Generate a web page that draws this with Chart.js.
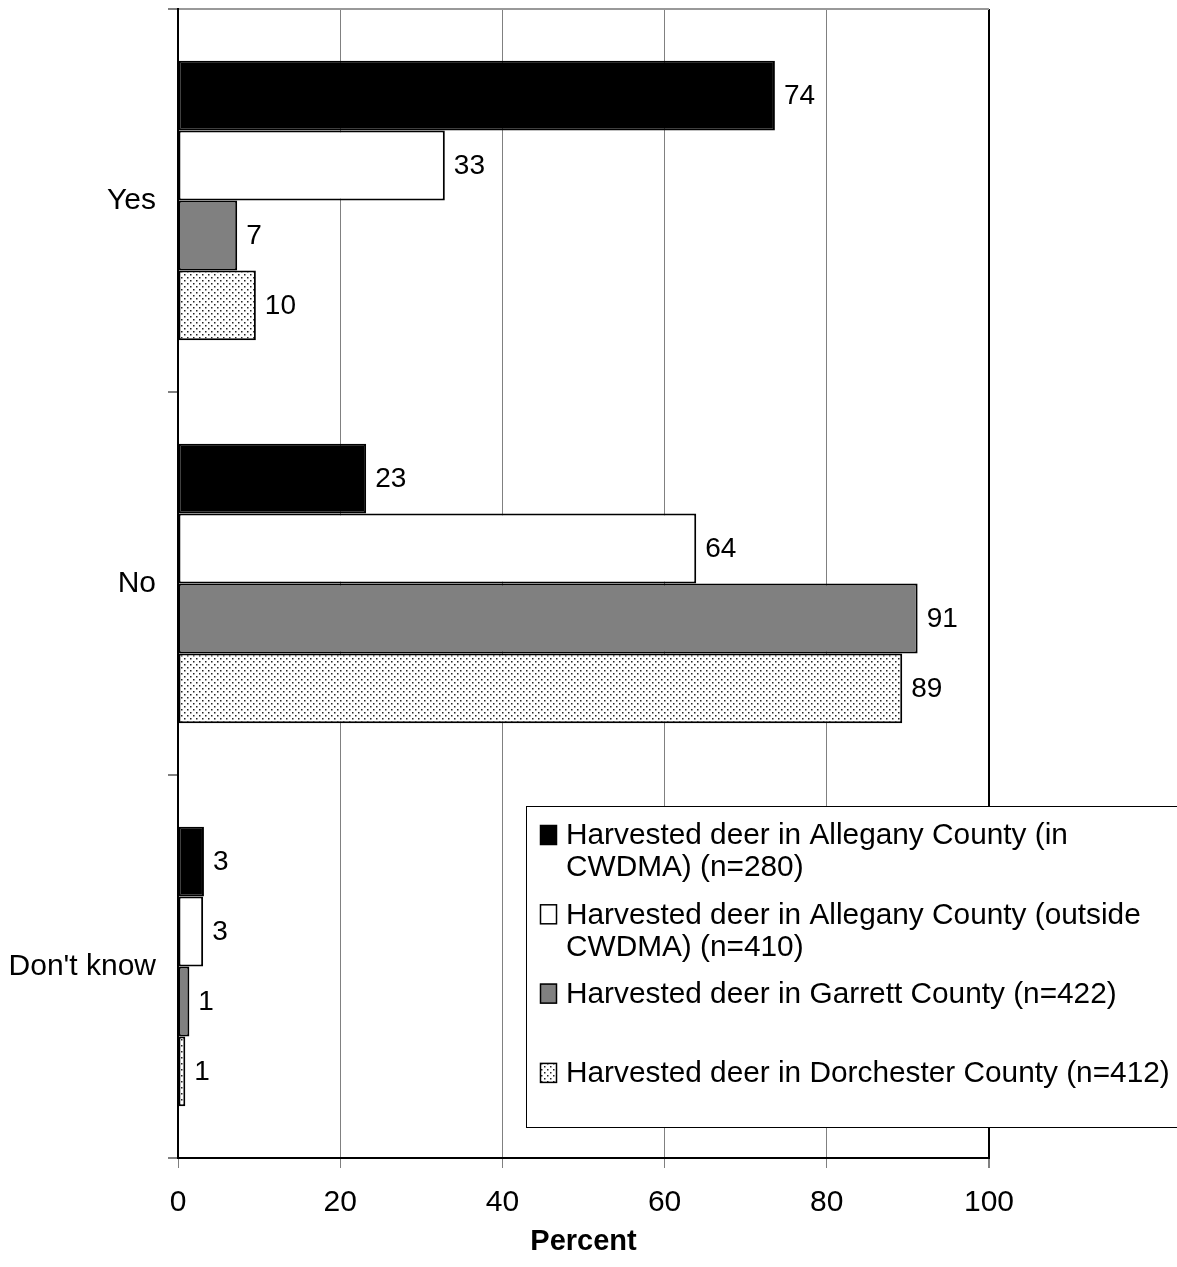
<!DOCTYPE html>
<html>
<head>
<meta charset="utf-8">
<script src="https://cdn.jsdelivr.net/npm/chart.js@4.4.1/dist/chart.umd.min.js"></script>
<style>
  html, body { margin: 0; padding: 0; background: #fff; }
  #wrap { width: 1177px; height: 1267px; position: relative; }
</style>
</head>
<body>
<div id="wrap"><canvas id="deerChart"></canvas></div>
<script>
const categories = ['Yes', 'No', "Don't know"];
const seriesNames = [
  'Harvested deer in Allegany County (in CWDMA) (n=280)',
  'Harvested deer in Allegany County (outside CWDMA) (n=410)',
  'Harvested deer in Garrett County (n=422)',
  'Harvested deer in Dorchester County (n=412)'
];
const alleganyIn = [73.6, 23.2, 3.2];
const alleganyOut = [32.9, 63.9, 3.1];
const garrett = [7.3, 91.2, 1.4];
const dorchester = [9.6, 89.3, 0.9];
const xTicks = [0, 20, 40, 60, 80, 100];

const FONT = "'Liberation Sans', Arial, sans-serif";

// dotted fill like the old office pattern
const makeDots = function () {
  const c = document.createElement('canvas');
  c.width = 6;
  c.height = 6;
  const g = c.getContext('2d');
  g.fillStyle = '#fff';
  g.fillRect(0, 0, 6, 6);
  g.fillStyle = '#222';
  g.fillRect(1, 1, 1.5, 1.5);
  g.fillRect(4, 4, 1.5, 1.5);
  return g.createPattern(c, 'repeat');
};
const dots = makeDots();

const fills = ['#000000', '#ffffff', '#808080', dots];
const seriesData = [alleganyIn, alleganyOut, garrett, dorchester];

const datasets = seriesData.map((d, i) => ({
  label: seriesNames[i],
  data: d,
  backgroundColor: fills[i],
  borderColor: '#000',
  borderWidth: 2,
  borderSkipped: false,
  categoryPercentage: 0.73,
  barPercentage: 1.0
}));

// value labels at bar ends
const valueLabels = {
  id: 'valueLabels',
  afterDatasetsDraw(chart) {
    const ctx = chart.ctx;
    ctx.save();
    ctx.font = '28px ' + FONT;
    ctx.fillStyle = '#000';
    ctx.textAlign = 'left';
    ctx.textBaseline = 'middle';
    chart.data.datasets.forEach((ds, i) => {
      chart.getDatasetMeta(i).data.forEach((bar, j) => {
        ctx.fillText(String(Math.round(ds.data[j])), bar.x + 9, bar.y + 1);
      });
    });
    ctx.restore();
  }
};

// legend box sitting over the plot, running off the right edge
const boxLegend = {
  id: 'boxLegend',
  afterDraw(chart) {
    const ctx = chart.ctx;
    const left = 526, top = 806, bottom = 1127;
    ctx.save();
    ctx.fillStyle = '#fff';
    ctx.fillRect(left, top, chart.width - left + 5, bottom - top);
    ctx.strokeStyle = '#000';
    ctx.lineWidth = 1;
    ctx.strokeRect(left + 0.5, top + 0.5, chart.width - left + 5, bottom - top);

    ctx.font = '29.8px ' + FONT;
    ctx.textAlign = 'left';
    ctx.textBaseline = 'middle';
    const textX = 566, maxW = 606, lineH = 32, slot = 79.3;
    chart.data.datasets.forEach((ds, i) => {
      const words = ds.label.split(' ');
      const lines = [];
      let cur = '';
      words.forEach(w => {
        const test = cur ? cur + ' ' + w : w;
        if (ctx.measureText(test).width > maxW && cur) {
          lines.push(cur);
          cur = w;
        } else {
          cur = test;
        }
      });
      lines.push(cur);
      const y0 = top + 29 + i * slot;
      ctx.fillStyle = ds.backgroundColor;
      ctx.fillRect(540, y0 - 10, 17, 20);
      ctx.strokeStyle = '#000';
      ctx.lineWidth = 1.5;
      ctx.strokeRect(540.5, y0 - 9.5, 16, 19);
      ctx.fillStyle = '#000';
      lines.forEach((ln, k) => ctx.fillText(ln, textX, y0 + 1 + k * lineH));
    });
    ctx.restore();
  }
};

const config = {
  type: 'bar',
  data: { labels: categories, datasets: datasets },
  options: {
    indexAxis: 'y',
    responsive: true,
    maintainAspectRatio: false,
    animation: false,
    layout: { padding: { top: 9, right: 188, left: 0, bottom: 0 } },
    plugins: {
      legend: { display: false },
      tooltip: { enabled: false }
    },
    scales: {
      x: {
        min: 0,
        max: 100,
        afterBuildTicks(scale) {
          scale.ticks = xTicks.map(v => ({ value: v }));
        },
        afterFit(scale) { scale.height = 109; },
        border: { color: '#000', width: 2 },
        grid: {
          color: c => (c.tick && c.tick.value === 100 ? '#000' : '#808080'),
          lineWidth: c => (c.tick && c.tick.value === 100 ? 2 : 1),
          tickColor: '#808080',
          tickLength: 10
        },
        ticks: {
          color: '#000',
          font: { family: FONT, size: 30 },
          padding: 17,
          maxRotation: 0
        },
        title: {
          display: true,
          text: 'Percent',
          color: '#000',
          font: { family: FONT, size: 29, weight: 'bold' },
          padding: { top: 4, bottom: 8 }
        }
      },
      y: {
        afterFit(scale) {
          scale.width = 178;
          scale.paddingTop = 0;
          scale.paddingBottom = 0;
        },
        border: { color: '#000', width: 2 },
        grid: {
          offset: true,
          drawOnChartArea: true,
          color: c => (c.index === 0 ? '#999999' : 'rgba(0,0,0,0)'),
          lineWidth: 2,
          tickColor: '#808080',
          tickLength: 10
        },
        ticks: {
          color: '#000',
          font: { family: FONT, size: 30 },
          padding: 12
        }
      }
    }
  },
  plugins: [valueLabels, boxLegend]
};

const deerChart = new Chart(document.getElementById('deerChart'), config);
</script>
</body>
</html>
